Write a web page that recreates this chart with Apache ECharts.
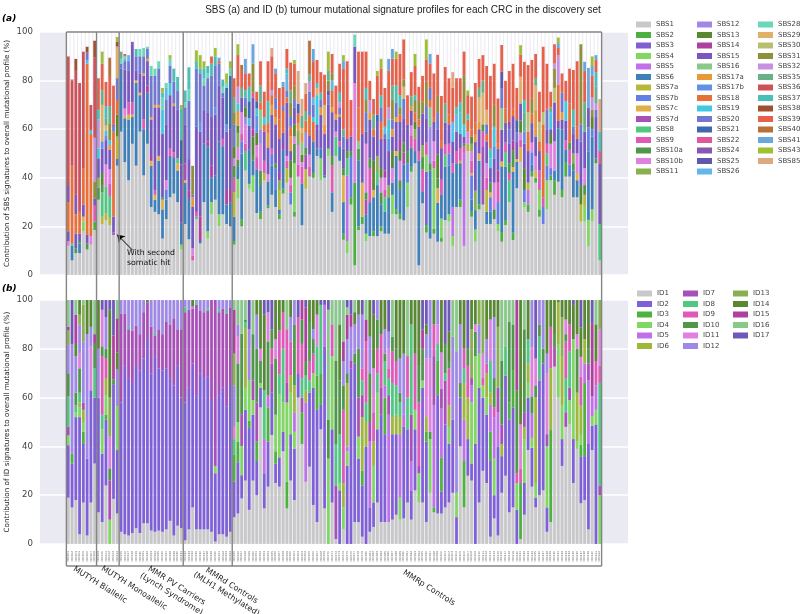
<!DOCTYPE html>
<html><head><meta charset="utf-8">
<style>html,body{margin:0;padding:0;background:#fff}#c{width:800px;height:614px}</style>
<script src="https://cdn.jsdelivr.net/npm/echarts@6/dist/echarts.min.js"></script>
</head><body><div id="c"></div>
<script>
const sbsNames=['SBS1','SBS2','SBS3','SBS4','SBS5','SBS6','SBS7a','SBS7b','SBS7c','SBS7d','SBS8','SBS9','SBS10a','SBS10b','SBS11','SBS12','SBS13','SBS14','SBS15','SBS16','SBS17a','SBS17b','SBS18','SBS19','SBS20','SBS21','SBS22','SBS24','SBS25','SBS26','SBS28','SBS29','SBS30','SBS31','SBS32','SBS35','SBS36','SBS37','SBS38','SBS39','SBS40','SBS41','SBS43','SBS85'];
const idNames=['ID1','ID2','ID3','ID4','ID5','ID6','ID7','ID8','ID9','ID10','ID11','ID12','ID13','ID14','ID15','ID16','ID17'];
const sbsColors=['#c8c8c8','#4caf3f','#8060d0','#80d860','#c070e8','#4080b8','#b8b838','#6080e8','#e0b048','#a850b8','#50c880','#e058b8','#509848','#e080e0','#88b050','#a088e8','#588830','#b040a0','#7858c0','#88c888','#e89838','#6090e8','#e87038','#40c8e0','#7078d0','#4068b0','#e05898','#8858b0','#6058a8','#60b8e8','#68d8b8','#e0b068','#b8c070','#909038','#c890e0','#68b088','#d05058','#48c0b8','#a05030','#e86048','#b87038','#68a8e0','#a0c030','#e0a880'];
const idColors=['#c8c8c8','#8060d8','#4db33d','#80d860','#c070e8','#a0b838','#a850b8','#50c880','#e058b8','#509848','#e080e0','#a088e8','#88b050','#588830','#b040a0','#88c888','#7058b8'];
const groupLabels=['MUTYH Biallelic','MUTYH Monoallelic','MMR PV Carriers\n(Lynch Syndrome)','MMRd Controls\n(MLH1 Methylated)','MMRp Controls'];
// Each bar: signature index, height (%), signature index, height (%), ...
const sbsBiallelic=[
[0,12,13,2,18,4,22,12,27,7,36,53],
[0,6,5,6,22,32,10,1,36,35,38,.5],
[0,9,12,2,18,6,22,8,27,8,36,51,38,5],
[0,9,5,4,18,3,12,1,22,9,36,53],
[0,18,3,4,18,5,22,15,8,2,36,48],
[0,10.5,12,2.5,18,3.5,22,70.5,23,1.5,24,3,38,2.5],
[0,12.5,13,3.5,22,42,23,1.5,36,10.5],
[0,18.5,1,3.5,11,6.5,34,18,33,7,18,3,36,33,38,7]];
const sbsMonoallelic=[
[0,31,12,5,14,4,18,8,23,4,34,12,37,4,39,13],
[0,21,6,3,10,10,12,3,16,5,18,10,21,3,31,15,35,6,39,11,42,5],
[0,22.5,6,3,10,11,13,9,18,10,21,2,23,2,31,2,35,3,37,5,39,10],
[0,20.5,6,3,10,9,11,5,13,6,20,2,18,8,23,2,33,7,35,7,39,12,40,8],
[0,16.5,9,1,18,6.5,22,35,24,2,27,1,39,16],
[0,45,6,9,5,3,22,6,16,9,24,9,31,13,38,2,42,2]];
const sbsLynch=[
[0,59,5,26,24,2,35,3,30,2],
[0,46.5,5,18,8,1,13,3,18,16,24,3.5,29,1,30,1,39,1],
[0,39,5,25,8,2,11,5,18,13,24,4,29,2.5],
[0,54,5,11,8,1,11,5,18,24,27,1],
[0,45,5,34,8,1,18,4,24,6,37,3],
[0,59,5,15,8,1,18,8,24,7,30,3],
[0,41,5,19,11,4,18,18,24,7,20,1,30,3.5],
[0,54,5,21,17,3,18,10,20,1,24,4,30,1],
[0,28,5,17,8,2,17,2,18,15,20,1,24,17,30,4],
[0,26,5,5,8,2,11,2,18,34,20,1,24,12,30,3],
[0,25,5,22,8,2,18,20,20,1,24,15,30,3],
[0,15,5,12,12,1,8,4,18,26,23,10,30,5,37,2,42,2],
[0,23,7,4,5,8,13,4,18,23,24,10,29,5,30,2],
[0,32,5,17,11,3,18,22,24,7,23,5,30,3,42,1.5],
[0,33.5,5,15,11,2,18,19,20,1,24,9,37,5.5],
[0,30,10,2,5,13,8,3,18,20,24,8,37,5.5],
[0,10.5,5,9,3,2,18,24,25,10,37,13,42,1.5]];
const sbsMethylated=[
[0,21,5,17,8,1,9,7,18,16,24,7,37,5,30,2],
[0,14.7,5,17,17,3,18,13,24,24,37,9,30,4.8],
[0,6,18,17,20,4,11,2,13,3,24,1,33,12],
[0,23,10,1,11,2,18,35,24,24,37,3,42,4.5],
[0,13,21,4,5,1,17,10,18,35,24,20,37,2,42,5.5],
[0,30,5,24,18,14,24,10,37,4,30,3,42,3],
[0,15,3,3,5,35,17,2,18,12,24,14,37,3,30,2],
[0,25,3,5,5,10,17,5,18,20,24,17,37,5,39,3],
[0,31,5,10,18,25,21,3,24,17,37,4,42,3.5],
[0,20,3,5,5,30,18,23,24,9,39,1,41,1.5],
[0,25,5,28,11,3,18,17,24,2,37,3,30,2.5],
[0,21,5,8,17,6,18,24,21,3,25,15,30,2,42,4],
[0,20,5,10,17,5,18,25,25,22,30,3,42,3]];
const sbsProficient=[
[0,12.5,1,1.5,5,10,6,10,11,6,12,5,13,3,16,5,24,9,33,5,35,6,39,8],
[0,31.5,3,8,5,5,12,3,13,5,14,6,16,3,20,6,23,3,34,7,39,13,42,4.5],
[0,20,1,3,5,27,7,5,11,3,13,9,18,6,35,4,39,7,40,2.5],
[0,43,10,8,11,3,13,8,15,3,16,4,24,4,37,3,39,7,41,6],
[0,35.5,3,2,5,14,18,10,23,3,25,7,37,6,39,5.5],
[0,34,3,7,5,6,12,2,16,8,17,3,18,13,26,2,33,12,41,8],
[0,25.5,5,18,11,5,13,5,16,5,21,7,23,3,25,3,39,4],
[0,23,1,3,5,11,12,6,13,11,15,6,19,8,22,3,35,7,39,10],
[0,39,6,3,11,5,18,12,22,3,23,3,39,10.5],
[0,27.5,1,1,5,10,13,3,18,11,20,6,22,4,37,9,39,16.5],
[0,33,5,12,7,5,11,2,18,14,22,4,20,4,34,2,39,14,43,3.5],
[0,28,5,7,7,9,12,2,18,16,20,3,22,3,24,5,39,10,41,2],
[0,23,1,2,5,2,6,8,14,4,17,3,18,14,22,8,39,13],
[0,33.5,1,2,5,16,17,2,18,5,22,9,24,2,39,8,41,2],
[0,38,6,6,11,3,13,2,18,22,22,2,24,3,37,2,39,8,29,7],
[0,29,7,5,11,3,13,3,18,4,16,7,20,6,22,4,24,4,35,5,33,6,39,11.5],
[0,24,1,2,3,20,12,8,13,3,18,7,16,5,24,3,33,6,39,9,42,1.5],
[0,40.5,11,5,13,8,14,6,20,3,22,4,25,4,43,13.5],
[0,20.5,5,17,11,7,13,2,16,3,20,4,31,2,35,5,19,5,43,7],
[0,35.5,6,8,9,6,12,3,15,6,22,5,35,4,39,7,43,4.5],
[0,40.5,11,4,13,5,18,8,22,8,24,10,34,4,35,3,40,14],
[0,40,1,2,5,13,22,8,24,5,23,2,29,3,39,15,41,5],
[0,49,5,3,18,10,23,12,31,3,37,2,39,9.5],
[0,39,3,9,5,4,18,14,20,3,24,3,37,3,39,8.5],
[0,40,5,1,18,17,20,4,31,8,39,12.5],
[0,49,3,3,18,18,28,2,24,4,33,4,35,4,42,8],
[0,26,5,8,11,11,12,4,18,18,20,2,22,7,33,3,39,8,29,4],
[0,49,10,8,18,5,13,2,20,2,39,12],
[0,47,5,6,11,2,18,10,20,1,24,3,34,2,37,4,39,12],
[0,14.5,1,2.5,5,13,8,11,12,3,18,8,24,5,35,3,39,25,41,3,42,2.5],
[0,9,3,5,4,27,10,7,12,3,18,5,39,32],
[0,29,1,3,7,17,12,2,18,6,39,15],
[0,4,1,34,13,41,18,15,30,5],
[0,18.5,1,1.5,5,27,12,5,22,14,19,3,39,23],
[0,21,1,3,18,20,8,14,39,34],
[0,14,3,3,5,8,13,20,18,5,12,3,9,6,24,8,33,5,37,5,39,15],
[0,16,5,14,12,4,11,14,18,16,20,3,34,5,39,8],
[0,16,1,2,5,14,8,3,16,12,18,10,22,3,35,6,39,6.5],
[0,16,5,21,10,5,14,7,18,14,25,3,39,16,42,2],
[0,18,1,2,5,9,12,5,13,6,16,4,18,12,22,7,24,6,37,5,39,11,42,4],
[0,17,5,9,10,6,11,3,13,5,17,3,18,13,24,2,29,3,39,16],
[0,17,5,15,14,5,18,14,21,5,23,8,34,5,39,15,41,5],
[0,25,3,8,5,5,13,6,16,7,18,6,20,3,24,4,35,6,33,8,39,11,41,4],
[0,25,1,2,5,22,8,2,18,12,20,2,24,6,37,7,39,11,42,3],
[0,23,1,2,5,10,12,4,13,8,16,4,17,5,18,7,22,3,37,5,33,3,39,17],
[0,22.5,5,23,9,5,12,4,18,10,24,8,31,5,33,3,39,16.5],
[0,28,3,10,7,8,18,11,12,5,39,12],
[0,42.5,1,2,5,8,11,5,13,4,18,6,20,2,35,4,39,10],
[0,46,5,5,11,5,14,4,16,3,22,4,33,5,37,2,39,12,42,5],
[0,4,5,43,11,4,18,10,22,3,33,8,39,5.5],
[0,29.5,5,5,11,9,12,5,18,13,14,5,33,5,39,10.5],
[0,17.5,1,3,2,22,3,7,11,5,18,10,24,5,33,10,39,9,42,8.5],
[0,15,5,28,12,3,15,15,19,8,22,3,24,5,39,10,41,4],
[0,17,1,2,3,25,13,8,11,3,18,8,22,2,39,18],
[0,13.7,5,16,8,6,12,4,16,10,18,10,24,7,33,7,39,17],
[0,13.7,1,1.5,3,8,5,10,11,6,18,13,22,3,39,18.5],
[0,22.6,5,22,10,5,11,4,18,9,35,8,39,15],
[0,22,3,3,5,20,7,5,11,4,18,8,22,4,39,15],
[0,12,3,4,4,12,5,14,11,4,18,9,23,4,29,4,39,14,43,6.5],
[0,28,5,18,11,5,18,8,29,7,37,3,39,12],
[0,28,1,3,5,15,6,1,11,5,18,6,23,9,37,4,39,10],
[0,12,4,38,12,1,11,3,18,3,23,5,33,20,39,10],
[0,51,6,3,13,5,22,5,37,2,39,8,42,2],
[0,24,1,2,5,5,7,10,8,1,11,5,13,4,14,3,22,3,16,3,39,13.5],
[0,13.7,3,5,5,8,18,20,22,5,14,8,20,3,39,16.3],
[0,27,1,2,5,18,8,3,18,10,20,3,31,10,35,4,39,12],
[0,29,9,24,11,6,12,3,31,13,35,5,39,10.5],
[0,21,5,5,6,9,11,5,13,6,18,9,22,3,24,4,31,6,39,18],
[0,21,5,5,7,6,8,2,12,4,18,6,23,4,37,4,39,30],
[0,23,12,4,13,11,18,10,21,5,23,8,33,9,39,17],
[0,18,3,3,7,9,11,8,17,5,18,9,22,2,39,18.7],
[0,13.7,1,4,5,27,8,2,18,13,19,9,24,8,28,7,39,11],
[0,20.6,1,2,5,22,11,4,10,6,18,8,22,6,39,11.4],
[0,30,12,4,10,9,11,3,18,8,24,6,27,3,39,21],
[0,14.4,1,3,5,25,8,2,12,7,17,4,18,10,22,3,39,18.6],
[0,35.7,5,11,8,1,18,7,24,4,25,5,39,13.3],
[0,46.6,8,6,11,3,13,3,16,5,18,7,31,11,39,9,42,4],
[0,28,3,2,7,5,16,9,18,10,21,5,35,8,37,5,39,15.8],
[0,26,1,3,4,6,6,3,18,13,22,8,32,8,39,19.4],
[0,40.5,1,2,5,3,7,5,13,4,18,8,22,4,33,6,39,16],
[0,38,1,2,8,3,13,6,18,8,20,11,31,10,35,3,39,10],
[0,24,1,3,3,8,11,8,18,8,22,4,32,8,39,12.5],
[0,21,7,7,11,4,22,30,32,5,39,27],
[0,27,3,12,7,6,10,5,11,4,18,6,24,8,39,19],
[0,39,1,2,7,3,13,10,16,4,18,2,23,7,35,2,39,6.5],
[0,33,1,6,5,4,13,12,18,16,32,6,33,8,34,2,39,8],
[0,38.4,5,22,18,3,22,15,34,12,39,3,41,2,42,2.4],
[0,32,1,3,5,25,18,4,20,3,24,8,39,8],
[0,40.5,1,6,5,5,11,4,18,8,23,8,39,8.5],
[0,40.5,7,5,11,6,12,3,22,16,39,14.5],
[0,32,5,11,12,3,14,4,18,8,24,3,37,7,39,16.4],
[0,32,5,7,8,3,13,8,18,6,22,5,39,27],
[0,22,6,7,16,8,18,18,24,7,33,33],
[0,22,3,6,6,5,12,4,13,7,18,15,35,12,39,13,41,3.8],
[0,11.7,3,11,5,28,7,10,18,8,41,16.6],
[0,22,3,5,5,30,7,3,16,5,33,3,34,5,39,9,41,4,42,4],
[0,46,12,2,18,17,24,3,35,7,37,6,39,5,34,2.5,41,2],
[0,6,10,15,18,25,26,5,37,8,43,13.4]];
const idBiallelic=[
[0,19,1,21.5,3,4,6,3.5,7,12.5,9,9.5,11,11.5,12,6,14,1.5,15,11],
[0,15,1,18,2,4,11,45,16,18],
[0,18,1,34,3,2,7,3,9,5,13,5,14,12,11,15,15,6],
[0,4,1,48,3,4,5,2,7,4,9,10,10,6,11,12,12,4,13,6],
[0,17,1,24,6,3,2,5,3,4,12,15,11,25,5,5,15,2],
[0,3.5,1,31.5,11,51,13,14],
[0,17,1,46,10,18,11,8,13,11],
[0,33,1,27,9,10,14,4,7,12,15,14]];
const idMonoallelic=[
[0,13,1,47,13,20,11,20],
[0,9,1,28,3,10,7,6,8,24,9,4,10,15,16,4],
[0,24,1,27,2,2,3,8,5,7,8,8,9,4,11,13,16,7],
[3,10,6,16,9,5,10,13,12,16,13,36,16,4],
[0,18.5,1,47,9,2,14,18,16,14.5],
[0,12.5,1,26,3,18,11,15,13,7,14,14,15,7.5]];
const idLynch=[
[0,5,1,53,6,36.5,11,5.5],
[0,4,1,69,6,21.5,11,5.5],
[0,3.5,1,64.5,7,1,6,20,11,11],
[0,4.5,1,61.5,6,21.5,11,12.5],
[0,6.5,1,66.5,6,16.5,11,10.5],
[0,4.5,1,66.5,6,15,11,14],
[0,8.5,1,67.5,6,19,11,5],
[0,8.5,1,75.5,6,15,13,1],
[0,5.5,1,64.5,6,19,11,11],
[0,5,1,72,7,1,6,8.5,11,13.5],
[0,5.5,1,66.5,6,16,11,12],
[0,5,1,66,6,15,11,14],
[0,6,1,66,6,19,11,9],
[0,9.5,1,58.5,6,22,11,10],
[0,3.5,1,61.5,6,27.5,11,7.5],
[0,7.5,1,65.5,6,15,11,12],
[0,6.5,1,53.5,6,28,11,12]];
const idMethylated=[
[0,1.5,1,56.5,7,2,6,37,11,3],
[0,6,1,58,6,32,11,4],
[0,15,1,59,6,22.5,11,1,13,2.5],
[0,6,1,55,7,1,6,37,11,1],
[0,6,1,64,6,25.5,11,4.5],
[0,6,1,62,6,27,11,5],
[0,6,1,62.5,7,1,6,27,11,3.5],
[0,5,1,54,6,41],
[0,1,1,28,3,3,6,68],
[0,4,1,57,7,1,6,34,11,4],
[0,4,1,60,6,32.5,11,3.5],
[0,3,1,53.5,7,1,6,38,11,4.5],
[0,5,1,61,6,31,11,3]];
const idProficient=[
[0,11,1,14.5,7,6.5,2,11,10,5,12,13,14,18,11,17,15,4],
[0,12.5,1,21,2,8.5,3,8,9,24,10,11,11,5,15,10],
[0,18.7,1,9.5,3,12,6,13,9,33,15,13.8],
[0,26,1,29,3,9,5,24.5,7,2.5,9,1,15,8],
[0,14,1,33.5,2,3,3,16.5,11,21,16,12],
[0,26,1,27,3,6,6,8,9,19,15,14],
[0,20,1,14,2,8,6,16,9,22,11,14,13,6],
[0,56,1,8,9,9,3,2,10,5,13,20],
[0,14.6,1,14.4,4,14,7,20,13,31,16,6],
[0,23.5,1,18.5,2,14,4,5,9,22,10,12,16,5],
[0,44.7,1,17.3,6,12,8,6,9,8,16,12],
[0,25,1,8,2,5,3,15,9,23,10,8,13,16],
[0,23.5,1,12,3,26,7,8,8,18,13,12.5],
[0,38,1,8,3,12,7,22,8,15,13,5],
[0,14.6,2,11,3,32.4,6,8,8,22,15,12],
[0,26,1,19,3,17,5,7,8,14,11,10,13,7],
[0,18,1,21,3,7,5,11,4,8,9,25,11,10],
[0,60,1,10,8,23,16,7],
[0,41,2,13,6,6,7,8,8,14,9,10,14,8],
[0,25.5,4,32.5,5,5,7,6,9,6,14,22,16,3],
[0,31.7,1,30.3,7,5,8,8,9,16,13,9],
[0,16,1,48,3,6,8,8,9,6,11,4,13,12],
[0,9,1,46,2,14,7,12,10,13,13,6],
[0,47,1,10,2,13,7,28,16,2],
[0,14.6,1,66.4,4,17,16,2],
[3,35,9,16,15,45,16,4],
[0,17,1,30,3,30,8,13,15,10],
[0,2,6,22,7,17,9,34,15,25],
[3,3,1,22,7,20,9,22,13,23,15,10],
[0,6,3,9,5,10,8,30,9,10,11,10,14,8,15,17],
[1,32,3,6,5,26,4,2,9,4,11,14,14,10,15,3,16,3],
[1,72,6,3,11,14,14,5,16,6],
[0,9,1,65,9,4,11,12,13,5,15,5],
[0,9,1,26,3,9,6,16,9,20,11,14,13,6],
[0,3,1,21,2,6,5,22,6,9,7,6,8,5,11,22,16,6],
[1,40,5,10,7,8,8,25,14,9,15,8],
[0,5,1,10,4,27,6,8,9,20,11,15,13,15],
[0,7,1,10,3,15,5,10,10,18,8,12,13,22,16,6],
[0,17,1,30,3,15,7,8,8,10,9,12,11,8],
[0,9,1,44,6,11,8,22,13,14],
[0,9,1,36,2,15,4,5,7,10,9,3,11,10,13,12],
[0,9,4,44,6,8,7,7,8,4,10,8,11,7,16,13],
[0,10,1,35,5,7,7,14,8,13,9,6,15,15],
[0,12,1,33,5,8,7,12,8,10,9,5,13,20],
[0,10,3,9,4,26,5,7,7,6,9,4,11,14,13,24],
[0,10.5,1,37.5,4,5,11,25,13,22],
[0,17,1,30,7,13,8,17,15,23],
[0,10,1,12,4,12,6,19,7,37,13,10],
[0,22,1,25,3,8,8,23,13,22],
[0,17,3,12,6,3,8,26,9,15,13,27],
[0,17,1,47,3,3,14,8,9,13,16,12],
[0,9,1,33,2,4,5,6,10,24,11,10,13,4,16,10],
[0,21,3,22,9,3,10,30,11,24],
[0,13,2,2,4,42,6,20,8,13,13,10],
[0,12.5,1,48.5,2,14,7,7,10,8,11,10],
[0,12.5,1,9,2,14,4,20,6,8,10,15,13,21.5],
[0,15,1,34,6,18,7,3,9,12,16,18],
[0,17,1,24,3,7,5,9,8,15,9,3,13,12,16,13],
[0,21,1,30,11,34,15,15],
[1,11,3,10,11,58,15,21],
[0,40,1,20,9,6,11,24,13,10],
[0,15,2,19,5,15,4,17,7,6,8,8,13,20],
[0,28,1,15,5,17,8,13,9,7,16,20],
[0,26,1,7,4,7,6,3,3,25,12,20,13,12],
[1,41,3,36,9,10,10,3,13,10],
[0,17,1,47,3,14,11,12,12,10],
[0,30,1,30,3,5,8,3,10,10,12,22],
[0,25,1,28,3,7,5,10,8,4,11,10,13,16],
[0,3,1,31,2,12,4,11,5,5,7,13,10,17,13,8],
[0,10.5,1,9.5,3,15,4,17,8,4,9,12,11,25,13,7],
[0,3.5,1,36.5,4,14,6,10,12,25,13,11],
[0,21,1,15,5,5,6,8,9,26,15,25],
[0,28,1,41,7,12,15,19],
[0,13,1,38,2,7,9,33,15,9],
[0,15,1,41,2,15,9,19,15,10],
[1,14,3,11,8,4,9,34,14,37],
[0,2,2,23,8,6,10,18,13,51],
[0,12,1,13,3,18,5,5,6,6,9,34,15,12],
[0,38.5,1,21.5,3,6,5,8,7,10,13,16],
[0,23.5,1,16,3,4,4,10,9,7,10,20,11,19.5],
[0,15,1,4,3,6,5,35,9,5,10,11,16,24],
[0,20,1,47,7,18,9,5,11,10],
[0,22,1,52,9,6,11,20],
[0,5,1,10,3,25,6,5,10,25,13,22,11,8],
[0,9,2,38,5,25,8,17,13,11],
[0,72.7,6,8,9,5,13,14.3],
[0,60,3,22,5,17,13,1],
[0,32,1,11,3,14,5,20,12,16,13,7],
[0,48,6,6,9,3,7,14,8,15,10,6,13,8],
[0,49,6,5,3,10,7,15,8,11,13,10],
[0,25,1,18,3,41,13,14,16,2],
[0,39,3,3,5,20,9,18,10,6,13,14],
[0,16.7,1,19,2,5,3,4,5,12,8,12,10,8,13,12,16,11.3],
[0,18,1,18,2,30,5,10,4,8,13,16],
[0,6,1,35,4,26,6,7,9,6,13,20],
[0,38.5,1,10,3,4,4,8,14,30,16,9.5],
[3,6,1,49,4,10,8,10,13,15,15,10],
[3,20,6,4,7,42,8,7,10,15,12,12]];

const PAD=7;
const sbsGroups=[sbsBiallelic,sbsMonoallelic,sbsLynch,sbsMethylated,sbsProficient];
const idGroups=[idBiallelic,idMonoallelic,idLynch,idMethylated,idProficient];
const sbsBars=sbsGroups.flat(), idBars=idGroups.flat();
const pad=()=>new Array(PAD).fill(0);
function valueOf(row,k){let v=0;for(let i=0;i<row.length;i+=2)if(row[i]===k)v+=row[i+1];return v;}
const sum=row=>{let s=0;for(let i=1;i<row.length;i+=2)s+=row[i];return s;};
const rnd=v=>Math.round(v*100)/100;
const cats=[...new Array(PAD).fill(''),...sbsBars.map((_,i)=>'CRC'+String(i+1).padStart(3,'0')),...new Array(PAD).fill('')];
const series=[];
const barCommon={type:'bar',barWidth:2.75,animation:false,silent:true,emphasis:{disabled:true}};
sbsNames.forEach((n,k)=>series.push({...barCommon,name:n,stack:'a',xAxisIndex:0,yAxisIndex:0,itemStyle:{color:sbsColors[k]},
  data:[...pad(),...sbsBars.map(r=>rnd(valueOf(r,k))),...pad()]}));
series.push({...barCommon,name:'unassigned',stack:'a',xAxisIndex:0,yAxisIndex:0,itemStyle:{color:'#ffffff'},
  data:[...pad(),...sbsBars.map(r=>Math.max(0,rnd(100-sum(r)))),...pad()],
  markLine:{silent:true,animation:false,symbol:['none','arrow'],symbolSize:7,lineStyle:{color:'#000',width:1,type:'solid'},label:{show:false},
    data:[[{coord:[24,10.3]},{coord:[20,16.6]}]]}});
idNames.forEach((n,k)=>series.push({...barCommon,name:n,stack:'b',xAxisIndex:1,yAxisIndex:1,itemStyle:{color:idColors[k]},
  data:[...pad(),...idBars.map(r=>rnd(valueOf(r,k)*100/sum(r))),...pad()]}));

const yAxis=(g,name)=>({type:'value',gridIndex:g,min:0,max:100,interval:20,name,nameLocation:'middle',nameGap:29,nameMoveOverlap:false,
  nameTextStyle:{fontFamily:'DejaVu Sans',fontSize:7.2,color:'#262626'},
  axisLine:{show:false},axisTick:{show:false},axisLabel:{fontFamily:'DejaVu Sans',fontSize:8.6,color:'#444',margin:7},
  splitLine:{show:true,lineStyle:{color:'#fff',width:1.5}}});
const legCol=(names,left,legTop)=>({orient:'vertical',left,top:legTop,data:names,itemWidth:15,itemHeight:6,itemGap:3.5,icon:'rect',selectedMode:false,padding:0,
  textStyle:{fontFamily:'DejaVu Sans',fontSize:7,color:'#444'}});
const chart=echarts.init(document.getElementById('c'),null,{renderer:'canvas'});
chart.setOption({
  animation:false,backgroundColor:'#fff',
  title:{text:'SBS (a) and ID (b) tumour mutational signature profiles for each CRC in the discovery set',left:398,top:0,textAlign:'center',
    textStyle:{fontFamily:'Liberation Sans',fontSize:10,fontWeight:'normal',color:'#222'}},
  grid:[{left:40,width:588,top:32,height:243,show:true,backgroundColor:'#eaeaf2',borderWidth:0,outerBoundsMode:'none'},
        {left:40,width:588,top:300,height:244,show:true,backgroundColor:'#eaeaf2',borderWidth:0,outerBoundsMode:'none'}],
  xAxis:[{type:'category',gridIndex:0,data:cats,axisLine:{show:false},axisTick:{show:false},axisLabel:{show:false},splitLine:{show:false}},
         {type:'category',gridIndex:1,data:cats,axisLine:{show:false},axisTick:{show:false},splitLine:{show:false},
          axisLabel:{show:true,interval:0,rotate:90,fontSize:2.7,color:'#555',margin:7,fontFamily:'DejaVu Sans'}}],
  yAxis:[yAxis(0,'Contribution of SBS signatures to overall mutational profile (%)'),yAxis(1,'Contribution of ID signatures to overall mutational profile (%)')],
  legend:[legCol(sbsNames.slice(0,15),636,21),legCol(sbsNames.slice(15,30),697,21),legCol(sbsNames.slice(30),758,21),
          legCol(idNames.slice(0,6),637,290),legCol(idNames.slice(6,12),683,290),legCol(idNames.slice(12),733,290)],
  series
});
// Group boxes are placed from the axis scale; group sizes come from the data arrays.
const band=chart.convertToPixel({xAxisIndex:1},PAD+1)-chart.convertToPixel({xAxisIndex:1},PAD);
let edge=PAD; const edges=[edge]; sbsGroups.forEach(g=>{edge+=g.length;edges.push(edge);});
const px=edges.map(e=>chart.convertToPixel({xAxisIndex:1},e)-band/2);
const boxTop=chart.convertToPixel({yAxisIndex:0},100), boxBottom=566;
const ln=(x1,y1,x2,y2)=>({type:'line',z:50,silent:true,shape:{x1,y1,x2,y2},style:{stroke:'#858585',lineWidth:1.4}});
const lbl=(text,x,y,extra)=>({type:'text',z:51,silent:true,x,y,style:{text,fontFamily:'DejaVu Sans',fontSize:8,fill:'#222',align:'center',verticalAlign:'middle',...extra}});
const rot=a=>a*Math.PI/180;
chart.setOption({graphic:{elements:[
  ...px.map(x=>ln(x,boxTop,x,boxBottom)),
  ln(px[0],boxTop,px[5],boxTop),ln(px[0],boxBottom,px[5],boxBottom),
  lbl('(a)',2,19,{align:'left',fontWeight:'bold',fontStyle:'italic',fontSize:9,fill:'#000'}),
  lbl('(b)',2,289,{align:'left',fontWeight:'bold',fontStyle:'italic',fontSize:9,fill:'#000'}),
  lbl('With second\nsomatic hit',127,258,{align:'left',fontSize:7.8,fill:'#111',lineHeight:10}),
  {...lbl(groupLabels[0],100,585),rotation:rot(-32)},
  {...lbl(groupLabels[1],134,588),rotation:rot(-32)},
  {...lbl(groupLabels[2],174,590,{lineHeight:10}),rotation:rot(-32)},
  {...lbl(groupLabels[3],229,590,{lineHeight:10}),rotation:rot(-32)},
  {...lbl(groupLabels[4],429,588),rotation:rot(-32)}
]}});
</script></body></html>
